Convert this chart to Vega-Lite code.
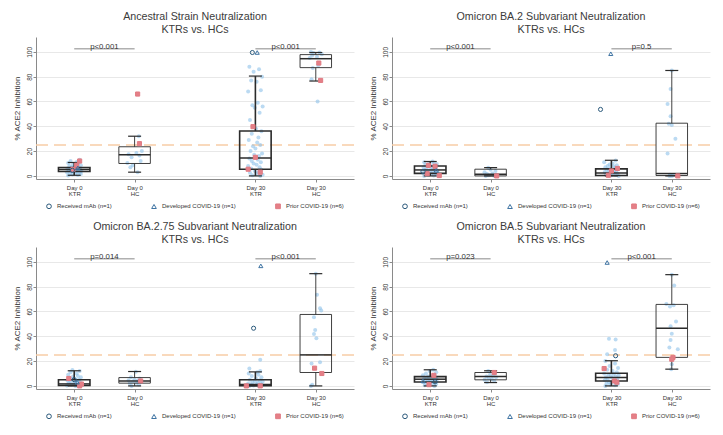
{
"$schema": "https://vega.github.io/schema/vega-lite/v6.json",
"background": "white",
"padding": {"left": 13, "top": 10, "right": 0, "bottom": 0},
"datasets": {
"pts": [
{"p":1,"x":0.9,"y":0.3,"g":"n"},{"p":1,"x":1.06,"y":0.8,"g":"n"},{"p":1,"x":0.97,"y":1.2,"g":"n"},{"p":1,"x":1.11,"y":1.5,"g":"n"},{"p":1,"x":0.93,"y":2,"g":"n"},{"p":1,"x":1.02,"y":2.3,"g":"n"},{"p":1,"x":1.09,"y":2.8,"g":"n"},{"p":1,"x":0.88,"y":3,"g":"n"},{"p":1,"x":1.04,"y":3.4,"g":"n"},{"p":1,"x":0.95,"y":3.7,"g":"n"},{"p":1,"x":1.12,"y":4,"g":"n"},{"p":1,"x":0.99,"y":4.2,"g":"n"},{"p":1,"x":1.07,"y":4.5,"g":"n"},{"p":1,"x":0.91,"y":4.8,"g":"n"},{"p":1,"x":1.01,"y":5,"g":"n"},{"p":1,"x":1.1,"y":5.2,"g":"n"},{"p":1,"x":0.94,"y":5.5,"g":"n"},{"p":1,"x":1.05,"y":5.8,"g":"n"},{"p":1,"x":0.89,"y":6,"g":"n"},{"p":1,"x":1.03,"y":6.3,"g":"n"},{"p":1,"x":1.08,"y":6.6,"g":"n"},{"p":1,"x":0.96,"y":7,"g":"n"},{"p":1,"x":1.0,"y":7.4,"g":"n"},{"p":1,"x":0.92,"y":8,"g":"n"},{"p":1,"x":1.11,"y":8.5,"g":"n"},{"p":1,"x":0.98,"y":9,"g":"n"},{"p":1,"x":1.06,"y":9.6,"g":"n"},{"p":1,"x":0.9,"y":10.5,"g":"n"},{"p":1,"x":1.04,"y":11.2,"g":"n"},{"p":1,"x":0.94,"y":12,"g":"n"},{"p":1,"x":1.09,"y":13,"g":"n"},
{"p":1,"x":2.05,"y":3,"g":"n"},{"p":1,"x":1.93,"y":7,"g":"n"},{"p":1,"x":1.97,"y":8.5,"g":"n"},{"p":1,"x":1.88,"y":10.5,"g":"n"},{"p":1,"x":2.1,"y":12,"g":"n"},{"p":1,"x":1.95,"y":15,"g":"n"},{"p":1,"x":2.08,"y":16.5,"g":"n"},{"p":1,"x":1.9,"y":17.5,"g":"n"},{"p":1,"x":2.03,"y":18.5,"g":"n"},{"p":1,"x":2.12,"y":20,"g":"n"},{"p":1,"x":2.07,"y":32,"g":"n"},
{"p":1,"x":3.9,"y":88,"g":"n"},{"p":1,"x":4.06,"y":86,"g":"n"},{"p":1,"x":3.97,"y":84,"g":"n"},{"p":1,"x":4.11,"y":80,"g":"n"},{"p":1,"x":3.93,"y":77,"g":"n"},{"p":1,"x":4.02,"y":76,"g":"n"},{"p":1,"x":4.09,"y":69,"g":"n"},{"p":1,"x":3.88,"y":68,"g":"n"},{"p":1,"x":4.04,"y":59,"g":"n"},{"p":1,"x":3.95,"y":57,"g":"n"},{"p":1,"x":4.12,"y":56,"g":"n"},{"p":1,"x":3.99,"y":55,"g":"n"},{"p":1,"x":4.07,"y":51,"g":"n"},{"p":1,"x":3.91,"y":45,"g":"n"},{"p":1,"x":4.01,"y":38,"g":"n"},{"p":1,"x":4.1,"y":36,"g":"n"},{"p":1,"x":3.94,"y":34,"g":"n"},{"p":1,"x":4.05,"y":31,"g":"n"},{"p":1,"x":3.89,"y":29,"g":"n"},{"p":1,"x":4.03,"y":27,"g":"n"},{"p":1,"x":4.08,"y":25,"g":"n"},{"p":1,"x":3.96,"y":24,"g":"n"},{"p":1,"x":4.0,"y":22,"g":"n"},{"p":1,"x":3.92,"y":20,"g":"n"},{"p":1,"x":4.11,"y":18,"g":"n"},{"p":1,"x":3.98,"y":17,"g":"n"},{"p":1,"x":4.06,"y":16,"g":"n"},{"p":1,"x":3.9,"y":14,"g":"n"},{"p":1,"x":4.04,"y":13,"g":"n"},{"p":1,"x":3.94,"y":12,"g":"n"},{"p":1,"x":4.09,"y":11,"g":"n"},{"p":1,"x":3.97,"y":10,"g":"n"},{"p":1,"x":4.02,"y":9,"g":"n"},{"p":1,"x":3.88,"y":8,"g":"n"},{"p":1,"x":4.07,"y":7,"g":"n"},{"p":1,"x":3.93,"y":6,"g":"n"},{"p":1,"x":4.1,"y":5,"g":"n"},{"p":1,"x":3.99,"y":4,"g":"n"},{"p":1,"x":4.05,"y":3,"g":"n"},{"p":1,"x":3.91,"y":2.5,"g":"n"},{"p":1,"x":4.03,"y":2,"g":"n"},{"p":1,"x":4.12,"y":1,"g":"n"},{"p":1,"x":3.95,"y":0.5,"g":"n"},{"p":1,"x":4.08,"y":0,"g":"n"},
{"p":1,"x":4.92,"y":100,"g":"n"},{"p":1,"x":5.06,"y":99.5,"g":"n"},{"p":1,"x":4.96,"y":99,"g":"n"},{"p":1,"x":5.1,"y":98,"g":"n"},{"p":1,"x":4.94,"y":97,"g":"n"},{"p":1,"x":5.02,"y":96,"g":"n"},{"p":1,"x":4.9,"y":95,"g":"n"},{"p":1,"x":5.04,"y":89,"g":"n"},{"p":1,"x":4.95,"y":87,"g":"n"},{"p":1,"x":4.93,"y":78,"g":"n"},{"p":1,"x":5.03,"y":60,"g":"n"},
{"p":1,"x":1.09,"y":12,"g":"Prior COVID-19 (n=6)"},{"p":1,"x":1.04,"y":8.6,"g":"Prior COVID-19 (n=6)"},{"p":1,"x":0.98,"y":5.2,"g":"Prior COVID-19 (n=6)"},{"p":1,"x":0.97,"y":4.5,"g":"Received mAb (n=1)"},{"p":1,"x":1.06,"y":6.5,"g":"Developed COVID-19 (n=1)"},{"p":1,"x":2.05,"y":66,"g":"Prior COVID-19 (n=6)"},{"p":1,"x":2.08,"y":26,"g":"Prior COVID-19 (n=6)"},{"p":1,"x":3.96,"y":39.7,"g":"Prior COVID-19 (n=6)"},{"p":1,"x":4.0,"y":15,"g":"Prior COVID-19 (n=6)"},{"p":1,"x":3.88,"y":5.4,"g":"Prior COVID-19 (n=6)"},{"p":1,"x":4.08,"y":3,"g":"Prior COVID-19 (n=6)"},{"p":1,"x":3.95,"y":99.5,"g":"Received mAb (n=1)"},{"p":1,"x":4.03,"y":99.5,"g":"Developed COVID-19 (n=1)"},{"p":1,"x":5.05,"y":91,"g":"Prior COVID-19 (n=6)"},{"p":1,"x":5.08,"y":77,"g":"Prior COVID-19 (n=6)"},
{"p":2,"x":0.9,"y":0,"g":"n"},{"p":2,"x":1.06,"y":0.3,"g":"n"},{"p":2,"x":0.97,"y":0.7,"g":"n"},{"p":2,"x":1.11,"y":1,"g":"n"},{"p":2,"x":0.93,"y":1.4,"g":"n"},{"p":2,"x":1.02,"y":1.8,"g":"n"},{"p":2,"x":1.09,"y":2.2,"g":"n"},{"p":2,"x":0.88,"y":2.6,"g":"n"},{"p":2,"x":1.04,"y":3,"g":"n"},{"p":2,"x":0.95,"y":3.3,"g":"n"},{"p":2,"x":1.12,"y":3.7,"g":"n"},{"p":2,"x":0.99,"y":4,"g":"n"},{"p":2,"x":1.07,"y":4.4,"g":"n"},{"p":2,"x":0.91,"y":4.8,"g":"n"},{"p":2,"x":1.01,"y":5.2,"g":"n"},{"p":2,"x":1.1,"y":5.6,"g":"n"},{"p":2,"x":0.94,"y":6,"g":"n"},{"p":2,"x":1.05,"y":6.4,"g":"n"},{"p":2,"x":0.89,"y":6.8,"g":"n"},{"p":2,"x":1.03,"y":7.2,"g":"n"},{"p":2,"x":1.08,"y":7.6,"g":"n"},{"p":2,"x":0.96,"y":8,"g":"n"},{"p":2,"x":1.0,"y":8.5,"g":"n"},{"p":2,"x":0.92,"y":9,"g":"n"},{"p":2,"x":1.11,"y":9.5,"g":"n"},{"p":2,"x":0.98,"y":10,"g":"n"},{"p":2,"x":1.06,"y":10.5,"g":"n"},{"p":2,"x":0.9,"y":11,"g":"n"},{"p":2,"x":1.04,"y":11.6,"g":"n"},
{"p":2,"x":1.92,"y":0,"g":"n"},{"p":2,"x":2.06,"y":0,"g":"n"},{"p":2,"x":1.97,"y":0.5,"g":"n"},{"p":2,"x":2.1,"y":1,"g":"n"},{"p":2,"x":1.94,"y":1.5,"g":"n"},{"p":2,"x":2.03,"y":2,"g":"n"},{"p":2,"x":1.9,"y":3,"g":"n"},{"p":2,"x":2.08,"y":4,"g":"n"},{"p":2,"x":2.0,"y":5,"g":"n"},{"p":2,"x":1.96,"y":6.5,"g":"n"},
{"p":2,"x":4.12,"y":0,"g":"n"},{"p":2,"x":3.99,"y":0.3,"g":"n"},{"p":2,"x":4.07,"y":0.8,"g":"n"},{"p":2,"x":3.91,"y":1.2,"g":"n"},{"p":2,"x":4.01,"y":1.6,"g":"n"},{"p":2,"x":4.1,"y":2,"g":"n"},{"p":2,"x":3.94,"y":2.4,"g":"n"},{"p":2,"x":4.05,"y":2.8,"g":"n"},{"p":2,"x":3.89,"y":3.2,"g":"n"},{"p":2,"x":4.03,"y":3.6,"g":"n"},{"p":2,"x":4.08,"y":4,"g":"n"},{"p":2,"x":3.96,"y":4.4,"g":"n"},{"p":2,"x":4.0,"y":4.8,"g":"n"},{"p":2,"x":3.92,"y":5.2,"g":"n"},{"p":2,"x":4.11,"y":5.6,"g":"n"},{"p":2,"x":3.98,"y":6,"g":"n"},{"p":2,"x":4.06,"y":6.5,"g":"n"},{"p":2,"x":3.9,"y":7,"g":"n"},{"p":2,"x":4.04,"y":7.5,"g":"n"},{"p":2,"x":3.94,"y":8,"g":"n"},{"p":2,"x":4.09,"y":8.6,"g":"n"},{"p":2,"x":3.97,"y":9.2,"g":"n"},{"p":2,"x":4.02,"y":10,"g":"n"},{"p":2,"x":3.88,"y":11,"g":"n"},{"p":2,"x":4.07,"y":12.5,"g":"n"},
{"p":2,"x":5.0,"y":85,"g":"n"},{"p":2,"x":4.98,"y":70,"g":"n"},{"p":2,"x":4.93,"y":58,"g":"n"},{"p":2,"x":4.98,"y":48,"g":"n"},{"p":2,"x":4.95,"y":42,"g":"n"},{"p":2,"x":5.0,"y":41,"g":"n"},{"p":2,"x":5.06,"y":30,"g":"n"},{"p":2,"x":4.93,"y":18,"g":"n"},{"p":2,"x":4.97,"y":1,"g":"n"},{"p":2,"x":5.02,"y":0.5,"g":"n"},{"p":2,"x":4.96,"y":0,"g":"n"},{"p":2,"x":5.0,"y":0,"g":"n"},
{"p":2,"x":0.97,"y":8.5,"g":"Prior COVID-19 (n=6)"},{"p":2,"x":1.08,"y":7.8,"g":"Prior COVID-19 (n=6)"},{"p":2,"x":0.95,"y":1.8,"g":"Prior COVID-19 (n=6)"},{"p":2,"x":1.15,"y":0.3,"g":"Prior COVID-19 (n=6)"},{"p":2,"x":0.88,"y":3.5,"g":"Received mAb (n=1)"},{"p":2,"x":1.1,"y":4.5,"g":"Developed COVID-19 (n=1)"},{"p":2,"x":2.1,"y":0,"g":"Prior COVID-19 (n=6)"},{"p":2,"x":4.0,"y":4,"g":"Prior COVID-19 (n=6)"},{"p":2,"x":4.1,"y":6,"g":"Prior COVID-19 (n=6)"},{"p":2,"x":3.95,"y":0.5,"g":"Prior COVID-19 (n=6)"},{"p":2,"x":3.82,"y":53.6,"g":"Received mAb (n=1)"},{"p":2,"x":3.99,"y":98.5,"g":"Developed COVID-19 (n=1)"},{"p":2,"x":5.1,"y":0,"g":"Prior COVID-19 (n=6)"},
{"p":3,"x":1.02,"y":0,"g":"n"},{"p":3,"x":1.09,"y":0,"g":"n"},{"p":3,"x":0.88,"y":0.3,"g":"n"},{"p":3,"x":1.04,"y":0.6,"g":"n"},{"p":3,"x":0.95,"y":1,"g":"n"},{"p":3,"x":1.12,"y":1.3,"g":"n"},{"p":3,"x":0.99,"y":1.6,"g":"n"},{"p":3,"x":1.07,"y":2,"g":"n"},{"p":3,"x":0.91,"y":2.3,"g":"n"},{"p":3,"x":1.01,"y":2.7,"g":"n"},{"p":3,"x":1.1,"y":3,"g":"n"},{"p":3,"x":0.94,"y":3.4,"g":"n"},{"p":3,"x":1.05,"y":3.8,"g":"n"},{"p":3,"x":0.89,"y":4.2,"g":"n"},{"p":3,"x":1.03,"y":4.6,"g":"n"},{"p":3,"x":1.08,"y":5,"g":"n"},{"p":3,"x":0.96,"y":5.5,"g":"n"},{"p":3,"x":1.0,"y":6,"g":"n"},{"p":3,"x":0.92,"y":6.5,"g":"n"},{"p":3,"x":1.11,"y":7,"g":"n"},{"p":3,"x":0.98,"y":7.5,"g":"n"},{"p":3,"x":1.06,"y":8,"g":"n"},{"p":3,"x":0.9,"y":9,"g":"n"},{"p":3,"x":1.04,"y":10,"g":"n"},{"p":3,"x":0.94,"y":11,"g":"n"},{"p":3,"x":1.09,"y":12,"g":"n"},{"p":3,"x":0.97,"y":12.8,"g":"n"},
{"p":3,"x":1.95,"y":0,"g":"n"},{"p":3,"x":2.07,"y":1,"g":"n"},{"p":3,"x":1.92,"y":2,"g":"n"},{"p":3,"x":2.03,"y":2.5,"g":"n"},{"p":3,"x":2.1,"y":3,"g":"n"},{"p":3,"x":1.97,"y":3.5,"g":"n"},{"p":3,"x":2.05,"y":4,"g":"n"},{"p":3,"x":1.9,"y":4.5,"g":"n"},{"p":3,"x":2.0,"y":5,"g":"n"},{"p":3,"x":2.08,"y":6,"g":"n"},{"p":3,"x":1.94,"y":7,"g":"n"},{"p":3,"x":2.02,"y":11.5,"g":"n"},
{"p":3,"x":3.9,"y":0,"g":"n"},{"p":3,"x":4.06,"y":0,"g":"n"},{"p":3,"x":3.97,"y":0.3,"g":"n"},{"p":3,"x":4.11,"y":0.6,"g":"n"},{"p":3,"x":3.93,"y":1,"g":"n"},{"p":3,"x":4.02,"y":1.3,"g":"n"},{"p":3,"x":4.09,"y":1.7,"g":"n"},{"p":3,"x":3.88,"y":2,"g":"n"},{"p":3,"x":4.04,"y":2.5,"g":"n"},{"p":3,"x":3.95,"y":3,"g":"n"},{"p":3,"x":4.12,"y":3.5,"g":"n"},{"p":3,"x":3.99,"y":4,"g":"n"},{"p":3,"x":4.07,"y":4.5,"g":"n"},{"p":3,"x":3.91,"y":5,"g":"n"},{"p":3,"x":4.01,"y":6,"g":"n"},{"p":3,"x":4.1,"y":7,"g":"n"},{"p":3,"x":3.94,"y":8,"g":"n"},{"p":3,"x":4.05,"y":9,"g":"n"},{"p":3,"x":3.89,"y":10,"g":"n"},{"p":3,"x":4.03,"y":11,"g":"n"},{"p":3,"x":4.08,"y":12,"g":"n"},{"p":3,"x":3.9,"y":14,"g":"n"},{"p":3,"x":4.08,"y":21,"g":"n"},
{"p":3,"x":5.0,"y":90.5,"g":"n"},{"p":3,"x":5.02,"y":73.5,"g":"n"},{"p":3,"x":5.07,"y":62.7,"g":"n"},{"p":3,"x":5.09,"y":60.8,"g":"n"},{"p":3,"x":4.97,"y":55.4,"g":"n"},{"p":3,"x":4.99,"y":45,"g":"n"},{"p":3,"x":4.97,"y":41.8,"g":"n"},{"p":3,"x":5.01,"y":38.4,"g":"n"},{"p":3,"x":5.07,"y":19,"g":"n"},{"p":3,"x":4.93,"y":18,"g":"n"},{"p":3,"x":4.94,"y":1,"g":"n"},{"p":3,"x":4.92,"y":0,"g":"n"},
{"p":3,"x":0.91,"y":6,"g":"Prior COVID-19 (n=6)"},{"p":3,"x":1.09,"y":0,"g":"Prior COVID-19 (n=6)"},{"p":3,"x":1.12,"y":1.5,"g":"Prior COVID-19 (n=6)"},{"p":3,"x":1.0,"y":5,"g":"Received mAb (n=1)"},{"p":3,"x":1.05,"y":3,"g":"Developed COVID-19 (n=1)"},{"p":3,"x":2.1,"y":4,"g":"Prior COVID-19 (n=6)"},{"p":3,"x":3.85,"y":0,"g":"Prior COVID-19 (n=6)"},{"p":3,"x":4.08,"y":0,"g":"Prior COVID-19 (n=6)"},{"p":3,"x":3.97,"y":46.5,"g":"Received mAb (n=1)"},{"p":3,"x":4.09,"y":96.8,"g":"Developed COVID-19 (n=1)"},{"p":3,"x":4.98,"y":14.3,"g":"Prior COVID-19 (n=6)"},{"p":3,"x":5.1,"y":10,"g":"Prior COVID-19 (n=6)"},
{"p":4,"x":1.07,"y":0,"g":"n"},{"p":4,"x":0.91,"y":0.5,"g":"n"},{"p":4,"x":1.01,"y":1,"g":"n"},{"p":4,"x":1.1,"y":1.5,"g":"n"},{"p":4,"x":0.94,"y":2,"g":"n"},{"p":4,"x":1.05,"y":2.5,"g":"n"},{"p":4,"x":0.89,"y":3,"g":"n"},{"p":4,"x":1.03,"y":3.3,"g":"n"},{"p":4,"x":1.08,"y":3.6,"g":"n"},{"p":4,"x":0.96,"y":4,"g":"n"},{"p":4,"x":1.0,"y":4.3,"g":"n"},{"p":4,"x":0.92,"y":4.6,"g":"n"},{"p":4,"x":1.11,"y":5,"g":"n"},{"p":4,"x":0.98,"y":5.3,"g":"n"},{"p":4,"x":1.06,"y":5.6,"g":"n"},{"p":4,"x":0.9,"y":6,"g":"n"},{"p":4,"x":1.04,"y":6.3,"g":"n"},{"p":4,"x":0.94,"y":6.6,"g":"n"},{"p":4,"x":1.09,"y":7,"g":"n"},{"p":4,"x":0.97,"y":7.5,"g":"n"},{"p":4,"x":1.02,"y":8,"g":"n"},{"p":4,"x":0.88,"y":8.5,"g":"n"},{"p":4,"x":1.07,"y":9,"g":"n"},{"p":4,"x":0.93,"y":10,"g":"n"},{"p":4,"x":1.1,"y":11,"g":"n"},{"p":4,"x":0.99,"y":12,"g":"n"},{"p":4,"x":1.05,"y":13,"g":"n"},
{"p":4,"x":1.94,"y":3,"g":"n"},{"p":4,"x":2.06,"y":4,"g":"n"},{"p":4,"x":1.9,"y":5,"g":"n"},{"p":4,"x":2.02,"y":5.5,"g":"n"},{"p":4,"x":1.97,"y":6,"g":"n"},{"p":4,"x":2.09,"y":7,"g":"n"},{"p":4,"x":1.93,"y":7.5,"g":"n"},{"p":4,"x":2.04,"y":8,"g":"n"},{"p":4,"x":1.99,"y":9,"g":"n"},{"p":4,"x":2.07,"y":10,"g":"n"},{"p":4,"x":1.96,"y":12,"g":"n"},
{"p":4,"x":3.96,"y":38,"g":"n"},{"p":4,"x":4.07,"y":37.5,"g":"n"},{"p":4,"x":4.06,"y":29,"g":"n"},{"p":4,"x":3.93,"y":25.6,"g":"n"},{"p":4,"x":3.9,"y":20,"g":"n"},{"p":4,"x":4.06,"y":18,"g":"n"},{"p":4,"x":3.97,"y":16,"g":"n"},{"p":4,"x":4.11,"y":14.5,"g":"n"},{"p":4,"x":3.93,"y":13,"g":"n"},{"p":4,"x":4.02,"y":12,"g":"n"},{"p":4,"x":4.09,"y":11,"g":"n"},{"p":4,"x":3.88,"y":10,"g":"n"},{"p":4,"x":4.04,"y":9.5,"g":"n"},{"p":4,"x":3.95,"y":9,"g":"n"},{"p":4,"x":4.12,"y":8.5,"g":"n"},{"p":4,"x":3.99,"y":8,"g":"n"},{"p":4,"x":4.07,"y":7.5,"g":"n"},{"p":4,"x":3.91,"y":7,"g":"n"},{"p":4,"x":4.01,"y":6.5,"g":"n"},{"p":4,"x":4.1,"y":6,"g":"n"},{"p":4,"x":3.94,"y":5.5,"g":"n"},{"p":4,"x":4.05,"y":5,"g":"n"},{"p":4,"x":3.89,"y":4.5,"g":"n"},{"p":4,"x":4.03,"y":4,"g":"n"},{"p":4,"x":4.08,"y":3.5,"g":"n"},{"p":4,"x":3.96,"y":3,"g":"n"},{"p":4,"x":4.0,"y":2.5,"g":"n"},{"p":4,"x":3.92,"y":2,"g":"n"},{"p":4,"x":4.11,"y":1.5,"g":"n"},{"p":4,"x":3.98,"y":1,"g":"n"},{"p":4,"x":4.06,"y":0.5,"g":"n"},{"p":4,"x":3.9,"y":0,"g":"n"},
{"p":4,"x":5.0,"y":89.7,"g":"n"},{"p":4,"x":5.04,"y":81,"g":"n"},{"p":4,"x":4.91,"y":66,"g":"n"},{"p":4,"x":5.03,"y":65,"g":"n"},{"p":4,"x":4.97,"y":64,"g":"n"},{"p":4,"x":5.07,"y":52,"g":"n"},{"p":4,"x":4.98,"y":48,"g":"n"},{"p":4,"x":5.0,"y":42,"g":"n"},{"p":4,"x":4.98,"y":37,"g":"n"},{"p":4,"x":4.96,"y":31,"g":"n"},{"p":4,"x":5.1,"y":29.5,"g":"n"},{"p":4,"x":5.0,"y":17.5,"g":"n"},{"p":4,"x":4.99,"y":13.5,"g":"n"},
{"p":4,"x":1.06,"y":8.5,"g":"Prior COVID-19 (n=6)"},{"p":4,"x":0.98,"y":1,"g":"Prior COVID-19 (n=6)"},{"p":4,"x":1.08,"y":3.3,"g":"Received mAb (n=1)"},{"p":4,"x":0.88,"y":4,"g":"Developed COVID-19 (n=1)"},{"p":4,"x":2.06,"y":10.8,"g":"Prior COVID-19 (n=6)"},{"p":4,"x":3.88,"y":14,"g":"Prior COVID-19 (n=6)"},{"p":4,"x":4.05,"y":4,"g":"Prior COVID-19 (n=6)"},{"p":4,"x":4.09,"y":3,"g":"Prior COVID-19 (n=6)"},{"p":4,"x":4.07,"y":24.3,"g":"Received mAb (n=1)"},{"p":4,"x":3.93,"y":99.5,"g":"Developed COVID-19 (n=1)"},{"p":4,"x":5.02,"y":23,"g":"Prior COVID-19 (n=6)"},{"p":4,"x":5.0,"y":21.5,"g":"Prior COVID-19 (n=6)"}
],
"box": [
{"p":1,"x":1,"c":"KTR","lo":0.5,"q1":3.6,"md":5.2,"q3":6.8,"hi":10.8},
{"p":1,"x":2,"c":"HC","lo":3,"q1":10,"md":17,"q3":23.5,"hi":32},
{"p":1,"x":4,"c":"KTR","lo":0,"q1":5.4,"md":14.5,"q3":36.2,"hi":80.5},
{"p":1,"x":5,"c":"HC","lo":76.5,"q1":87.3,"md":94.5,"q3":97.8,"hi":99.5},
{"p":2,"x":1,"c":"KTR","lo":0,"q1":2,"md":4.8,"q3":8,"hi":11.6},
{"p":2,"x":2,"c":"HC","lo":0,"q1":0,"md":1.4,"q3":5.4,"hi":6.7},
{"p":2,"x":4,"c":"KTR","lo":0,"q1":0.3,"md":2.4,"q3":5.7,"hi":12.6},
{"p":2,"x":5,"c":"HC","lo":0,"q1":0.3,"md":1.9,"q3":42.5,"hi":85},
{"p":3,"x":1,"c":"KTR","lo":0,"q1":0.3,"md":1.6,"q3":4.9,"hi":12.2},
{"p":3,"x":2,"c":"HC","lo":0,"q1":2.2,"md":4,"q3":6.7,"hi":11.6},
{"p":3,"x":4,"c":"KTR","lo":0,"q1":0.2,"md":1.1,"q3":4.9,"hi":11.3},
{"p":3,"x":5,"c":"HC","lo":0,"q1":10.8,"md":25,"q3":57.6,"hi":90.5},
{"p":4,"x":1,"c":"KTR","lo":0,"q1":3.2,"md":5.4,"q3":7.5,"hi":13},
{"p":4,"x":2,"c":"HC","lo":2.7,"q1":4.9,"md":7.5,"q3":10.8,"hi":12.2},
{"p":4,"x":4,"c":"KTR","lo":0,"q1":4,"md":6.7,"q3":10.2,"hi":20.3},
{"p":4,"x":5,"c":"HC","lo":13.5,"q1":23,"md":46.5,"q3":65.7,"hi":89.7}
],
"pv": [
{"p":1,"x1":1,"x2":2,"xm":1.5,"y":102.5,"t":"p<0.001"},{"p":1,"x1":4,"x2":5,"xm":4.5,"y":102.5,"t":"p<0.001"},
{"p":2,"x1":1,"x2":2,"xm":1.5,"y":102.5,"t":"p<0.001"},{"p":2,"x1":4,"x2":5,"xm":4.5,"y":102.5,"t":"p=0.5"},
{"p":3,"x1":1,"x2":2,"xm":1.5,"y":102.5,"t":"p=0.014"},{"p":3,"x1":4,"x2":5,"xm":4.5,"y":102.5,"t":"p<0.001"},
{"p":4,"x1":1,"x2":2,"xm":1.5,"y":102.5,"t":"p=0.023"},{"p":4,"x1":4,"x2":5,"xm":4.5,"y":102.5,"t":"p<0.001"}
]
},
"spacing": 9,
"resolve": {"scale": {"x": "independent", "y": "independent", "shape": "independent", "fill": "independent", "stroke": "independent"}, "legend": {"shape": "independent", "fill": "independent", "stroke": "independent"}},
"vconcat": [
{"hconcat": [
{"width": 318, "height": 142, "title": {"text": "Ancestral Strain Neutralization", "subtitle": "KTRs vs. HCs"},
"layer": [
{"data": {"values": [{"v": 25}]}, "mark": {"type": "rule", "color": "#f8cda6", "strokeDash": [12, 6], "strokeWidth": 1.5}, "encoding": {"y": {"field": "v", "type": "quantitative", "scale": {"domain": [-2.5, 112], "nice": false, "zero": false}, "axis": {"title": "% ACE2 Inhibition", "values": [0, 20, 40, 60, 80, 100], "grid": true, "labelOverlap": false}}}},
{"data": {"name": "pts"}, "transform": [{"filter": "datum.p == 1 && datum.g == 'n'"}], "mark": {"type": "circle", "size": 16, "color": "#8ec2ea", "opacity": 0.6}, "encoding": {"x": {"field": "x", "type": "quantitative", "scale": {"domain": [0.45, 5.55], "nice": false, "zero": false}, "axis": {"title": null, "values": [1, 2, 4, 5], "grid": false, "labelExpr": "datum.value == 1 ? ['Day 0','KTR'] : datum.value == 2 ? ['Day 0','HC'] : datum.value == 4 ? ['Day 30','KTR'] : ['Day 30','HC']"}}, "y": {"field": "y", "type": "quantitative", "axis": {"title": "% ACE2 Inhibition", "values": [0, 20, 40, 60, 80, 100], "grid": true, "labelOverlap": false}}}},
{"data": {"name": "box"}, "transform": [{"filter": "datum.p == 1"}], "mark": {"type": "rule", "color": "#2b2b2b"}, "encoding": {"x": {"field": "x", "type": "quantitative", "title": null}, "y": {"field": "q3", "type": "quantitative", "axis": {"title": "% ACE2 Inhibition", "values": [0, 20, 40, 60, 80, 100], "grid": true, "labelOverlap": false}}, "y2": {"field": "hi"}, "strokeWidth": {"condition": {"test": "datum.c == 'KTR'", "value": 1.6}, "value": 0.9}}},
{"data": {"name": "box"}, "transform": [{"filter": "datum.p == 1"}], "mark": {"type": "rule", "color": "#2b2b2b"}, "encoding": {"x": {"field": "x", "type": "quantitative", "title": null}, "y": {"field": "lo", "type": "quantitative", "axis": {"title": "% ACE2 Inhibition", "values": [0, 20, 40, 60, 80, 100], "grid": true, "labelOverlap": false}}, "y2": {"field": "q1"}, "strokeWidth": {"condition": {"test": "datum.c == 'KTR'", "value": 1.6}, "value": 0.9}}},
{"data": {"name": "box"}, "transform": [{"filter": "datum.p == 1"}], "mark": {"type": "bar", "fill": "transparent", "stroke": "#2b2b2b", "size": 31.5}, "encoding": {"x": {"field": "x", "type": "quantitative", "title": null}, "y": {"field": "q1", "type": "quantitative", "axis": {"title": "% ACE2 Inhibition", "values": [0, 20, 40, 60, 80, 100], "grid": true, "labelOverlap": false}}, "y2": {"field": "q3"}, "strokeWidth": {"condition": {"test": "datum.c == 'KTR'", "value": 1.6}, "value": 0.9}}},
{"data": {"name": "box"}, "transform": [{"filter": "datum.p == 1"}], "mark": {"type": "tick", "orient": "horizontal", "color": "#2b2b2b", "size": 31.5, "thickness": 1.5, "opacity": 1}, "encoding": {"x": {"field": "x", "type": "quantitative", "title": null}, "y": {"field": "md", "type": "quantitative", "axis": {"title": "% ACE2 Inhibition", "values": [0, 20, 40, 60, 80, 100], "grid": true, "labelOverlap": false}}}},
{"data": {"name": "box"}, "transform": [{"filter": "datum.p == 1"}], "mark": {"type": "tick", "orient": "horizontal", "color": "#2b2b2b", "size": 13, "thickness": 1.2, "opacity": 1}, "encoding": {"x": {"field": "x", "type": "quantitative", "title": null}, "y": {"field": "hi", "type": "quantitative", "axis": {"title": "% ACE2 Inhibition", "values": [0, 20, 40, 60, 80, 100], "grid": true, "labelOverlap": false}}}},
{"data": {"name": "box"}, "transform": [{"filter": "datum.p == 1"}], "mark": {"type": "tick", "orient": "horizontal", "color": "#2b2b2b", "size": 13, "thickness": 1.2, "opacity": 1}, "encoding": {"x": {"field": "x", "type": "quantitative", "title": null}, "y": {"field": "lo", "type": "quantitative", "axis": {"title": "% ACE2 Inhibition", "values": [0, 20, 40, 60, 80, 100], "grid": true, "labelOverlap": false}}}},
{"data": {"name": "pts"}, "transform": [{"filter": "datum.p == 1 && datum.g != 'n'"}], "mark": {"type": "point", "size": 17, "strokeWidth": 1, "opacity": 1}, "encoding": {"x": {"field": "x", "type": "quantitative", "title": null}, "y": {"field": "y", "type": "quantitative", "axis": {"title": "% ACE2 Inhibition", "values": [0, 20, 40, 60, 80, 100], "grid": true, "labelOverlap": false}},
 "shape": {"field": "g", "type": "nominal", "scale": {"domain": ["Received mAb (n=1)", "Developed COVID-19 (n=1)", "Prior COVID-19 (n=6)"], "range": ["circle", "triangle-up", "square"]}, "legend": {"orient": "none", "legendX": 10, "legendY": 166, "direction": "horizontal", "title": null, "labelFontSize": 6, "symbolSize": 22, "labelOffset": 5, "columnPadding": 37, "padding": 0, "symbolStrokeWidth": 1, "labelColor": "#333333"}},
 "stroke": {"field": "g", "type": "nominal", "scale": {"domain": ["Received mAb (n=1)", "Developed COVID-19 (n=1)", "Prior COVID-19 (n=6)"], "range": ["#2c5a7c", "#3f74a3", "#e07b83"]}, "legend": {"orient": "none", "legendX": 10, "legendY": 166, "direction": "horizontal", "title": null, "labelFontSize": 6, "symbolSize": 22, "labelOffset": 5, "columnPadding": 37, "padding": 0, "symbolStrokeWidth": 1, "labelColor": "#333333"}},
 "fill": {"field": "g", "type": "nominal", "scale": {"domain": ["Received mAb (n=1)", "Developed COVID-19 (n=1)", "Prior COVID-19 (n=6)"], "range": ["transparent", "transparent", "#e57f87"]}, "legend": {"orient": "none", "legendX": 10, "legendY": 166, "direction": "horizontal", "title": null, "labelFontSize": 6, "symbolSize": 22, "labelOffset": 5, "columnPadding": 37, "padding": 0, "symbolStrokeWidth": 1, "labelColor": "#333333"}}}},
{"data": {"name": "pv"}, "transform": [{"filter": "datum.p == 1"}], "mark": {"type": "rule", "color": "#b0b0b0", "strokeWidth": 1.5}, "encoding": {"x": {"field": "x1", "type": "quantitative", "title": null}, "x2": {"field": "x2"}, "y": {"field": "y", "type": "quantitative", "axis": {"title": "% ACE2 Inhibition", "values": [0, 20, 40, 60, 80, 100], "grid": true, "labelOverlap": false}}}},
{"data": {"name": "pv"}, "transform": [{"filter": "datum.p == 1"}], "mark": {"type": "text", "fontSize": 7.8, "color": "#333333", "baseline": "alphabetic", "align": "center"}, "encoding": {"x": {"field": "xm", "type": "quantitative", "title": null}, "y": {"field": "y", "type": "quantitative", "axis": {"title": "% ACE2 Inhibition", "values": [0, 20, 40, 60, 80, 100], "grid": true, "labelOverlap": false}}, "text": {"field": "t"}}}
]},
{"width": 318, "height": 142, "title": {"text": "Omicron BA.2 Subvariant Neutralization", "subtitle": "KTRs vs. HCs"},
"layer": [
{"data": {"values": [{"v": 25}]}, "mark": {"type": "rule", "color": "#f8cda6", "strokeDash": [12, 6], "strokeWidth": 1.5}, "encoding": {"y": {"field": "v", "type": "quantitative", "scale": {"domain": [-2.5, 112], "nice": false, "zero": false}, "axis": {"title": "% ACE2 Inhibition", "values": [0, 20, 40, 60, 80, 100], "grid": true, "labelOverlap": false}}}},
{"data": {"name": "pts"}, "transform": [{"filter": "datum.p == 2 && datum.g == 'n'"}], "mark": {"type": "circle", "size": 16, "color": "#8ec2ea", "opacity": 0.6}, "encoding": {"x": {"field": "x", "type": "quantitative", "scale": {"domain": [0.45, 5.55], "nice": false, "zero": false}, "axis": {"title": null, "values": [1, 2, 4, 5], "grid": false, "labelExpr": "datum.value == 1 ? ['Day 0','KTR'] : datum.value == 2 ? ['Day 0','HC'] : datum.value == 4 ? ['Day 30','KTR'] : ['Day 30','HC']"}}, "y": {"field": "y", "type": "quantitative", "axis": {"title": "% ACE2 Inhibition", "values": [0, 20, 40, 60, 80, 100], "grid": true, "labelOverlap": false}}}},
{"data": {"name": "box"}, "transform": [{"filter": "datum.p == 2"}], "mark": {"type": "rule", "color": "#2b2b2b"}, "encoding": {"x": {"field": "x", "type": "quantitative", "title": null}, "y": {"field": "q3", "type": "quantitative", "axis": {"title": "% ACE2 Inhibition", "values": [0, 20, 40, 60, 80, 100], "grid": true, "labelOverlap": false}}, "y2": {"field": "hi"}, "strokeWidth": {"condition": {"test": "datum.c == 'KTR'", "value": 1.6}, "value": 0.9}}},
{"data": {"name": "box"}, "transform": [{"filter": "datum.p == 2"}], "mark": {"type": "rule", "color": "#2b2b2b"}, "encoding": {"x": {"field": "x", "type": "quantitative", "title": null}, "y": {"field": "lo", "type": "quantitative", "axis": {"title": "% ACE2 Inhibition", "values": [0, 20, 40, 60, 80, 100], "grid": true, "labelOverlap": false}}, "y2": {"field": "q1"}, "strokeWidth": {"condition": {"test": "datum.c == 'KTR'", "value": 1.6}, "value": 0.9}}},
{"data": {"name": "box"}, "transform": [{"filter": "datum.p == 2"}], "mark": {"type": "bar", "fill": "transparent", "stroke": "#2b2b2b", "size": 31.5}, "encoding": {"x": {"field": "x", "type": "quantitative", "title": null}, "y": {"field": "q1", "type": "quantitative", "axis": {"title": "% ACE2 Inhibition", "values": [0, 20, 40, 60, 80, 100], "grid": true, "labelOverlap": false}}, "y2": {"field": "q3"}, "strokeWidth": {"condition": {"test": "datum.c == 'KTR'", "value": 1.6}, "value": 0.9}}},
{"data": {"name": "box"}, "transform": [{"filter": "datum.p == 2"}], "mark": {"type": "tick", "orient": "horizontal", "color": "#2b2b2b", "size": 31.5, "thickness": 1.5, "opacity": 1}, "encoding": {"x": {"field": "x", "type": "quantitative", "title": null}, "y": {"field": "md", "type": "quantitative", "axis": {"title": "% ACE2 Inhibition", "values": [0, 20, 40, 60, 80, 100], "grid": true, "labelOverlap": false}}}},
{"data": {"name": "box"}, "transform": [{"filter": "datum.p == 2"}], "mark": {"type": "tick", "orient": "horizontal", "color": "#2b2b2b", "size": 13, "thickness": 1.2, "opacity": 1}, "encoding": {"x": {"field": "x", "type": "quantitative", "title": null}, "y": {"field": "hi", "type": "quantitative", "axis": {"title": "% ACE2 Inhibition", "values": [0, 20, 40, 60, 80, 100], "grid": true, "labelOverlap": false}}}},
{"data": {"name": "box"}, "transform": [{"filter": "datum.p == 2"}], "mark": {"type": "tick", "orient": "horizontal", "color": "#2b2b2b", "size": 13, "thickness": 1.2, "opacity": 1}, "encoding": {"x": {"field": "x", "type": "quantitative", "title": null}, "y": {"field": "lo", "type": "quantitative", "axis": {"title": "% ACE2 Inhibition", "values": [0, 20, 40, 60, 80, 100], "grid": true, "labelOverlap": false}}}},
{"data": {"name": "pts"}, "transform": [{"filter": "datum.p == 2 && datum.g != 'n'"}], "mark": {"type": "point", "size": 17, "strokeWidth": 1, "opacity": 1}, "encoding": {"x": {"field": "x", "type": "quantitative", "title": null}, "y": {"field": "y", "type": "quantitative", "axis": {"title": "% ACE2 Inhibition", "values": [0, 20, 40, 60, 80, 100], "grid": true, "labelOverlap": false}},
 "shape": {"field": "g", "type": "nominal", "scale": {"domain": ["Received mAb (n=1)", "Developed COVID-19 (n=1)", "Prior COVID-19 (n=6)"], "range": ["circle", "triangle-up", "square"]}, "legend": {"orient": "none", "legendX": 10, "legendY": 166, "direction": "horizontal", "title": null, "labelFontSize": 6, "symbolSize": 22, "labelOffset": 5, "columnPadding": 37, "padding": 0, "symbolStrokeWidth": 1, "labelColor": "#333333"}},
 "stroke": {"field": "g", "type": "nominal", "scale": {"domain": ["Received mAb (n=1)", "Developed COVID-19 (n=1)", "Prior COVID-19 (n=6)"], "range": ["#2c5a7c", "#3f74a3", "#e07b83"]}, "legend": {"orient": "none", "legendX": 10, "legendY": 166, "direction": "horizontal", "title": null, "labelFontSize": 6, "symbolSize": 22, "labelOffset": 5, "columnPadding": 37, "padding": 0, "symbolStrokeWidth": 1, "labelColor": "#333333"}},
 "fill": {"field": "g", "type": "nominal", "scale": {"domain": ["Received mAb (n=1)", "Developed COVID-19 (n=1)", "Prior COVID-19 (n=6)"], "range": ["transparent", "transparent", "#e57f87"]}, "legend": {"orient": "none", "legendX": 10, "legendY": 166, "direction": "horizontal", "title": null, "labelFontSize": 6, "symbolSize": 22, "labelOffset": 5, "columnPadding": 37, "padding": 0, "symbolStrokeWidth": 1, "labelColor": "#333333"}}}},
{"data": {"name": "pv"}, "transform": [{"filter": "datum.p == 2"}], "mark": {"type": "rule", "color": "#b0b0b0", "strokeWidth": 1.5}, "encoding": {"x": {"field": "x1", "type": "quantitative", "title": null}, "x2": {"field": "x2"}, "y": {"field": "y", "type": "quantitative", "axis": {"title": "% ACE2 Inhibition", "values": [0, 20, 40, 60, 80, 100], "grid": true, "labelOverlap": false}}}},
{"data": {"name": "pv"}, "transform": [{"filter": "datum.p == 2"}], "mark": {"type": "text", "fontSize": 7.8, "color": "#333333", "baseline": "alphabetic", "align": "center"}, "encoding": {"x": {"field": "xm", "type": "quantitative", "title": null}, "y": {"field": "y", "type": "quantitative", "axis": {"title": "% ACE2 Inhibition", "values": [0, 20, 40, 60, 80, 100], "grid": true, "labelOverlap": false}}, "text": {"field": "t"}}}
]}
], "spacing": 14,
"resolve": {"scale": {"x": "independent", "y": "independent", "shape": "independent", "fill": "independent", "stroke": "independent"}, "legend": {"shape": "independent", "fill": "independent", "stroke": "independent"}}},
{"hconcat": [
{"width": 318, "height": 142, "title": {"text": "Omicron BA.2.75 Subvariant Neutralization", "subtitle": "KTRs vs. HCs"},
"layer": [
{"data": {"values": [{"v": 25}]}, "mark": {"type": "rule", "color": "#f8cda6", "strokeDash": [12, 6], "strokeWidth": 1.5}, "encoding": {"y": {"field": "v", "type": "quantitative", "scale": {"domain": [-2.5, 112], "nice": false, "zero": false}, "axis": {"title": "% ACE2 Inhibition", "values": [0, 20, 40, 60, 80, 100], "grid": true, "labelOverlap": false}}}},
{"data": {"name": "pts"}, "transform": [{"filter": "datum.p == 3 && datum.g == 'n'"}], "mark": {"type": "circle", "size": 16, "color": "#8ec2ea", "opacity": 0.6}, "encoding": {"x": {"field": "x", "type": "quantitative", "scale": {"domain": [0.45, 5.55], "nice": false, "zero": false}, "axis": {"title": null, "values": [1, 2, 4, 5], "grid": false, "labelExpr": "datum.value == 1 ? ['Day 0','KTR'] : datum.value == 2 ? ['Day 0','HC'] : datum.value == 4 ? ['Day 30','KTR'] : ['Day 30','HC']"}}, "y": {"field": "y", "type": "quantitative", "axis": {"title": "% ACE2 Inhibition", "values": [0, 20, 40, 60, 80, 100], "grid": true, "labelOverlap": false}}}},
{"data": {"name": "box"}, "transform": [{"filter": "datum.p == 3"}], "mark": {"type": "rule", "color": "#2b2b2b"}, "encoding": {"x": {"field": "x", "type": "quantitative", "title": null}, "y": {"field": "q3", "type": "quantitative", "axis": {"title": "% ACE2 Inhibition", "values": [0, 20, 40, 60, 80, 100], "grid": true, "labelOverlap": false}}, "y2": {"field": "hi"}, "strokeWidth": {"condition": {"test": "datum.c == 'KTR'", "value": 1.6}, "value": 0.9}}},
{"data": {"name": "box"}, "transform": [{"filter": "datum.p == 3"}], "mark": {"type": "rule", "color": "#2b2b2b"}, "encoding": {"x": {"field": "x", "type": "quantitative", "title": null}, "y": {"field": "lo", "type": "quantitative", "axis": {"title": "% ACE2 Inhibition", "values": [0, 20, 40, 60, 80, 100], "grid": true, "labelOverlap": false}}, "y2": {"field": "q1"}, "strokeWidth": {"condition": {"test": "datum.c == 'KTR'", "value": 1.6}, "value": 0.9}}},
{"data": {"name": "box"}, "transform": [{"filter": "datum.p == 3"}], "mark": {"type": "bar", "fill": "transparent", "stroke": "#2b2b2b", "size": 31.5}, "encoding": {"x": {"field": "x", "type": "quantitative", "title": null}, "y": {"field": "q1", "type": "quantitative", "axis": {"title": "% ACE2 Inhibition", "values": [0, 20, 40, 60, 80, 100], "grid": true, "labelOverlap": false}}, "y2": {"field": "q3"}, "strokeWidth": {"condition": {"test": "datum.c == 'KTR'", "value": 1.6}, "value": 0.9}}},
{"data": {"name": "box"}, "transform": [{"filter": "datum.p == 3"}], "mark": {"type": "tick", "orient": "horizontal", "color": "#2b2b2b", "size": 31.5, "thickness": 1.5, "opacity": 1}, "encoding": {"x": {"field": "x", "type": "quantitative", "title": null}, "y": {"field": "md", "type": "quantitative", "axis": {"title": "% ACE2 Inhibition", "values": [0, 20, 40, 60, 80, 100], "grid": true, "labelOverlap": false}}}},
{"data": {"name": "box"}, "transform": [{"filter": "datum.p == 3"}], "mark": {"type": "tick", "orient": "horizontal", "color": "#2b2b2b", "size": 13, "thickness": 1.2, "opacity": 1}, "encoding": {"x": {"field": "x", "type": "quantitative", "title": null}, "y": {"field": "hi", "type": "quantitative", "axis": {"title": "% ACE2 Inhibition", "values": [0, 20, 40, 60, 80, 100], "grid": true, "labelOverlap": false}}}},
{"data": {"name": "box"}, "transform": [{"filter": "datum.p == 3"}], "mark": {"type": "tick", "orient": "horizontal", "color": "#2b2b2b", "size": 13, "thickness": 1.2, "opacity": 1}, "encoding": {"x": {"field": "x", "type": "quantitative", "title": null}, "y": {"field": "lo", "type": "quantitative", "axis": {"title": "% ACE2 Inhibition", "values": [0, 20, 40, 60, 80, 100], "grid": true, "labelOverlap": false}}}},
{"data": {"name": "pts"}, "transform": [{"filter": "datum.p == 3 && datum.g != 'n'"}], "mark": {"type": "point", "size": 17, "strokeWidth": 1, "opacity": 1}, "encoding": {"x": {"field": "x", "type": "quantitative", "title": null}, "y": {"field": "y", "type": "quantitative", "axis": {"title": "% ACE2 Inhibition", "values": [0, 20, 40, 60, 80, 100], "grid": true, "labelOverlap": false}},
 "shape": {"field": "g", "type": "nominal", "scale": {"domain": ["Received mAb (n=1)", "Developed COVID-19 (n=1)", "Prior COVID-19 (n=6)"], "range": ["circle", "triangle-up", "square"]}, "legend": {"orient": "none", "legendX": 10, "legendY": 166, "direction": "horizontal", "title": null, "labelFontSize": 6, "symbolSize": 22, "labelOffset": 5, "columnPadding": 37, "padding": 0, "symbolStrokeWidth": 1, "labelColor": "#333333"}},
 "stroke": {"field": "g", "type": "nominal", "scale": {"domain": ["Received mAb (n=1)", "Developed COVID-19 (n=1)", "Prior COVID-19 (n=6)"], "range": ["#2c5a7c", "#3f74a3", "#e07b83"]}, "legend": {"orient": "none", "legendX": 10, "legendY": 166, "direction": "horizontal", "title": null, "labelFontSize": 6, "symbolSize": 22, "labelOffset": 5, "columnPadding": 37, "padding": 0, "symbolStrokeWidth": 1, "labelColor": "#333333"}},
 "fill": {"field": "g", "type": "nominal", "scale": {"domain": ["Received mAb (n=1)", "Developed COVID-19 (n=1)", "Prior COVID-19 (n=6)"], "range": ["transparent", "transparent", "#e57f87"]}, "legend": {"orient": "none", "legendX": 10, "legendY": 166, "direction": "horizontal", "title": null, "labelFontSize": 6, "symbolSize": 22, "labelOffset": 5, "columnPadding": 37, "padding": 0, "symbolStrokeWidth": 1, "labelColor": "#333333"}}}},
{"data": {"name": "pv"}, "transform": [{"filter": "datum.p == 3"}], "mark": {"type": "rule", "color": "#b0b0b0", "strokeWidth": 1.5}, "encoding": {"x": {"field": "x1", "type": "quantitative", "title": null}, "x2": {"field": "x2"}, "y": {"field": "y", "type": "quantitative", "axis": {"title": "% ACE2 Inhibition", "values": [0, 20, 40, 60, 80, 100], "grid": true, "labelOverlap": false}}}},
{"data": {"name": "pv"}, "transform": [{"filter": "datum.p == 3"}], "mark": {"type": "text", "fontSize": 7.8, "color": "#333333", "baseline": "alphabetic", "align": "center"}, "encoding": {"x": {"field": "xm", "type": "quantitative", "title": null}, "y": {"field": "y", "type": "quantitative", "axis": {"title": "% ACE2 Inhibition", "values": [0, 20, 40, 60, 80, 100], "grid": true, "labelOverlap": false}}, "text": {"field": "t"}}}
]},
{"width": 318, "height": 142, "title": {"text": "Omicron BA.5 Subvariant Neutralization", "subtitle": "KTRs vs. HCs"},
"layer": [
{"data": {"values": [{"v": 25}]}, "mark": {"type": "rule", "color": "#f8cda6", "strokeDash": [12, 6], "strokeWidth": 1.5}, "encoding": {"y": {"field": "v", "type": "quantitative", "scale": {"domain": [-2.5, 112], "nice": false, "zero": false}, "axis": {"title": "% ACE2 Inhibition", "values": [0, 20, 40, 60, 80, 100], "grid": true, "labelOverlap": false}}}},
{"data": {"name": "pts"}, "transform": [{"filter": "datum.p == 4 && datum.g == 'n'"}], "mark": {"type": "circle", "size": 16, "color": "#8ec2ea", "opacity": 0.6}, "encoding": {"x": {"field": "x", "type": "quantitative", "scale": {"domain": [0.45, 5.55], "nice": false, "zero": false}, "axis": {"title": null, "values": [1, 2, 4, 5], "grid": false, "labelExpr": "datum.value == 1 ? ['Day 0','KTR'] : datum.value == 2 ? ['Day 0','HC'] : datum.value == 4 ? ['Day 30','KTR'] : ['Day 30','HC']"}}, "y": {"field": "y", "type": "quantitative", "axis": {"title": "% ACE2 Inhibition", "values": [0, 20, 40, 60, 80, 100], "grid": true, "labelOverlap": false}}}},
{"data": {"name": "box"}, "transform": [{"filter": "datum.p == 4"}], "mark": {"type": "rule", "color": "#2b2b2b"}, "encoding": {"x": {"field": "x", "type": "quantitative", "title": null}, "y": {"field": "q3", "type": "quantitative", "axis": {"title": "% ACE2 Inhibition", "values": [0, 20, 40, 60, 80, 100], "grid": true, "labelOverlap": false}}, "y2": {"field": "hi"}, "strokeWidth": {"condition": {"test": "datum.c == 'KTR'", "value": 1.6}, "value": 0.9}}},
{"data": {"name": "box"}, "transform": [{"filter": "datum.p == 4"}], "mark": {"type": "rule", "color": "#2b2b2b"}, "encoding": {"x": {"field": "x", "type": "quantitative", "title": null}, "y": {"field": "lo", "type": "quantitative", "axis": {"title": "% ACE2 Inhibition", "values": [0, 20, 40, 60, 80, 100], "grid": true, "labelOverlap": false}}, "y2": {"field": "q1"}, "strokeWidth": {"condition": {"test": "datum.c == 'KTR'", "value": 1.6}, "value": 0.9}}},
{"data": {"name": "box"}, "transform": [{"filter": "datum.p == 4"}], "mark": {"type": "bar", "fill": "transparent", "stroke": "#2b2b2b", "size": 31.5}, "encoding": {"x": {"field": "x", "type": "quantitative", "title": null}, "y": {"field": "q1", "type": "quantitative", "axis": {"title": "% ACE2 Inhibition", "values": [0, 20, 40, 60, 80, 100], "grid": true, "labelOverlap": false}}, "y2": {"field": "q3"}, "strokeWidth": {"condition": {"test": "datum.c == 'KTR'", "value": 1.6}, "value": 0.9}}},
{"data": {"name": "box"}, "transform": [{"filter": "datum.p == 4"}], "mark": {"type": "tick", "orient": "horizontal", "color": "#2b2b2b", "size": 31.5, "thickness": 1.5, "opacity": 1}, "encoding": {"x": {"field": "x", "type": "quantitative", "title": null}, "y": {"field": "md", "type": "quantitative", "axis": {"title": "% ACE2 Inhibition", "values": [0, 20, 40, 60, 80, 100], "grid": true, "labelOverlap": false}}}},
{"data": {"name": "box"}, "transform": [{"filter": "datum.p == 4"}], "mark": {"type": "tick", "orient": "horizontal", "color": "#2b2b2b", "size": 13, "thickness": 1.2, "opacity": 1}, "encoding": {"x": {"field": "x", "type": "quantitative", "title": null}, "y": {"field": "hi", "type": "quantitative", "axis": {"title": "% ACE2 Inhibition", "values": [0, 20, 40, 60, 80, 100], "grid": true, "labelOverlap": false}}}},
{"data": {"name": "box"}, "transform": [{"filter": "datum.p == 4"}], "mark": {"type": "tick", "orient": "horizontal", "color": "#2b2b2b", "size": 13, "thickness": 1.2, "opacity": 1}, "encoding": {"x": {"field": "x", "type": "quantitative", "title": null}, "y": {"field": "lo", "type": "quantitative", "axis": {"title": "% ACE2 Inhibition", "values": [0, 20, 40, 60, 80, 100], "grid": true, "labelOverlap": false}}}},
{"data": {"name": "pts"}, "transform": [{"filter": "datum.p == 4 && datum.g != 'n'"}], "mark": {"type": "point", "size": 17, "strokeWidth": 1, "opacity": 1}, "encoding": {"x": {"field": "x", "type": "quantitative", "title": null}, "y": {"field": "y", "type": "quantitative", "axis": {"title": "% ACE2 Inhibition", "values": [0, 20, 40, 60, 80, 100], "grid": true, "labelOverlap": false}},
 "shape": {"field": "g", "type": "nominal", "scale": {"domain": ["Received mAb (n=1)", "Developed COVID-19 (n=1)", "Prior COVID-19 (n=6)"], "range": ["circle", "triangle-up", "square"]}, "legend": {"orient": "none", "legendX": 10, "legendY": 166, "direction": "horizontal", "title": null, "labelFontSize": 6, "symbolSize": 22, "labelOffset": 5, "columnPadding": 37, "padding": 0, "symbolStrokeWidth": 1, "labelColor": "#333333"}},
 "stroke": {"field": "g", "type": "nominal", "scale": {"domain": ["Received mAb (n=1)", "Developed COVID-19 (n=1)", "Prior COVID-19 (n=6)"], "range": ["#2c5a7c", "#3f74a3", "#e07b83"]}, "legend": {"orient": "none", "legendX": 10, "legendY": 166, "direction": "horizontal", "title": null, "labelFontSize": 6, "symbolSize": 22, "labelOffset": 5, "columnPadding": 37, "padding": 0, "symbolStrokeWidth": 1, "labelColor": "#333333"}},
 "fill": {"field": "g", "type": "nominal", "scale": {"domain": ["Received mAb (n=1)", "Developed COVID-19 (n=1)", "Prior COVID-19 (n=6)"], "range": ["transparent", "transparent", "#e57f87"]}, "legend": {"orient": "none", "legendX": 10, "legendY": 166, "direction": "horizontal", "title": null, "labelFontSize": 6, "symbolSize": 22, "labelOffset": 5, "columnPadding": 37, "padding": 0, "symbolStrokeWidth": 1, "labelColor": "#333333"}}}},
{"data": {"name": "pv"}, "transform": [{"filter": "datum.p == 4"}], "mark": {"type": "rule", "color": "#b0b0b0", "strokeWidth": 1.5}, "encoding": {"x": {"field": "x1", "type": "quantitative", "title": null}, "x2": {"field": "x2"}, "y": {"field": "y", "type": "quantitative", "axis": {"title": "% ACE2 Inhibition", "values": [0, 20, 40, 60, 80, 100], "grid": true, "labelOverlap": false}}}},
{"data": {"name": "pv"}, "transform": [{"filter": "datum.p == 4"}], "mark": {"type": "text", "fontSize": 7.8, "color": "#333333", "baseline": "alphabetic", "align": "center"}, "encoding": {"x": {"field": "xm", "type": "quantitative", "title": null}, "y": {"field": "y", "type": "quantitative", "axis": {"title": "% ACE2 Inhibition", "values": [0, 20, 40, 60, 80, 100], "grid": true, "labelOverlap": false}}, "text": {"field": "t"}}}
]}
], "spacing": 14,
"resolve": {"scale": {"x": "independent", "y": "independent", "shape": "independent", "fill": "independent", "stroke": "independent"}, "legend": {"shape": "independent", "fill": "independent", "stroke": "independent"}}}
],
"config": {
 "font": "Liberation Sans",
 "view": {"stroke": null},
 "title": {"fontSize": 10.7, "fontWeight": "normal", "subtitleFontSize": 10.7, "subtitleFontWeight": "normal", "color": "#3b3b3b", "subtitleColor": "#3b3b3b", "subtitlePadding": 3, "offset": 1, "anchor": "middle", "frame": "group", "font": "Liberation Sans", "subtitleFont": "Liberation Sans"},
 "axisX": {"labelFontSize": 6, "labelLineHeight": 6.5, "tickSize": 3, "labelPadding": 2, "domainColor": "#8a8a8a", "domainWidth": 1.2, "tickColor": "#8a8a8a", "labelColor": "#333333", "labelFont": "Liberation Sans"},
 "axisY": {"labelFontSize": 6.5, "labelAngle": 270, "labelAlign": "center", "labelBaseline": "bottom", "labelPadding": 1, "labelOverlap": false, "tickSize": 3, "titleFontSize": 8, "titleFontWeight": "normal", "titlePadding": 5, "domainColor": "#8a8a8a", "tickColor": "#8a8a8a", "gridColor": "#e8e8e8", "labelColor": "#333333", "titleColor": "#333333", "labelFont": "Liberation Sans", "titleFont": "Liberation Sans"}
}
}
